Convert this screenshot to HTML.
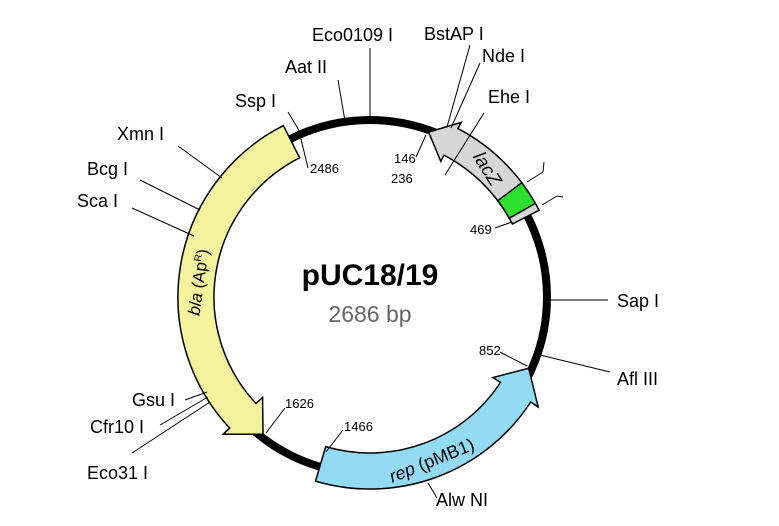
<!DOCTYPE html>
<html><head><meta charset="utf-8"><style>
html,body{margin:0;padding:0;background:#fff;}
svg{display:block;}
text{font-family:"Liberation Sans",sans-serif;fill:#000;}
.l{font-size:18px;}
.n{font-size:13px;}
</style></head><body>
<svg id="s" width="779" height="526" viewBox="0 0 779 526" xmlns="http://www.w3.org/2000/svg">
<g id="g"></g>
<g stroke="#000" stroke-width="1" fill="none">
<line x1="370" y1="48" x2="370" y2="116"/>
<line x1="338" y1="80" x2="345" y2="121"/>
<line x1="288" y1="112" x2="300" y2="132"/>
<line x1="178" y1="146" x2="222" y2="178"/>
<line x1="140" y1="180" x2="200" y2="210"/>
<line x1="132" y1="208" x2="194" y2="236"/>
<line x1="470" y1="45" x2="447" y2="127"/>
<line x1="480" y1="63" x2="451" y2="128"/>
<line x1="484" y1="113" x2="445" y2="175"/>
<line x1="544" y1="162" x2="543" y2="172"/><line x1="543" y1="172" x2="527" y2="182"/>
<line x1="563" y1="197" x2="557" y2="196"/><line x1="557" y1="196" x2="542" y2="205"/>
<line x1="495" y1="228" x2="512" y2="222"/>
<line x1="548" y1="300" x2="608" y2="300"/>
<line x1="540" y1="355" x2="610" y2="372"/>
<line x1="500" y1="352" x2="527" y2="366"/>
<line x1="428" y1="483" x2="437" y2="498"/>
<line x1="343" y1="430" x2="326" y2="452"/>
<line x1="285" y1="408" x2="266" y2="433"/>
<line x1="185" y1="400" x2="207" y2="392"/>
<line x1="160" y1="425" x2="208" y2="397"/>
<line x1="132" y1="453" x2="210" y2="402"/>
<line x1="300" y1="135" x2="308" y2="168"/>
<line x1="416" y1="157" x2="426" y2="135"/>
</g>
<text class="l" x="312" y="41">Eco0109 I</text>
<text class="l" x="285" y="73">Aat II</text>
<text class="l" x="235" y="107">Ssp I</text>
<text class="l" x="117" y="140">Xmn I</text>
<text class="l" x="87" y="175">Bcg I</text>
<text class="l" x="77" y="207">Sca I</text>
<text class="l" x="424" y="40">BstAP I</text>
<text class="l" x="482" y="62">Nde I</text>
<text class="l" x="488" y="103">Ehe I</text>
<text class="l" x="617" y="307">Sap I</text>
<text class="l" x="617" y="385">Afl III</text>
<text class="l" x="436" y="506">Alw NI</text>
<text class="l" x="132" y="406">Gsu I</text>
<text class="l" x="90" y="433">Cfr10 I</text>
<text class="l" x="87" y="479">Eco31 I</text>
<text class="n" x="310" y="173">2486</text>
<text class="n" x="394" y="163">146</text>
<text class="n" x="391" y="183">236</text>
<text class="n" x="470" y="234">469</text>
<text class="n" x="479" y="355">852</text>
<text class="n" x="344" y="431">1466</text>
<text class="n" x="285" y="408">1626</text>
<text x="370" y="285" text-anchor="middle" style="font-size:30px;font-weight:bold">pUC18/19</text>
<text x="370" y="322" text-anchor="middle" style="font-size:23px;fill:#666">2686 bp</text>
<text transform="translate(204,283) rotate(-82)" text-anchor="middle" style="font-size:17px">
<tspan font-style="italic">bla</tspan> (Ap<tspan font-size="10" dy="-6">R</tspan><tspan dy="6">)</tspan></text>
<text transform="translate(482,172) rotate(58)" text-anchor="middle" style="font-size:19px;font-style:italic">lacZ</text>
<text transform="translate(434,466) rotate(-22)" text-anchor="middle" style="font-size:18px"><tspan font-style="italic">rep</tspan> (pMB1)</text>
</svg>
<script>
var cx=370,cy=297,N=2686;
function P(a,r){var t=a*Math.PI/180;return (cx+r*Math.sin(t)).toFixed(1)+","+(cy-r*Math.cos(t)).toFixed(1);}
function A(bp){return bp/N*360;}
var g=document.getElementById('g'),h='';
h+='<circle cx="'+cx+'" cy="'+cy+'" r="177" fill="none" stroke="#000" stroke-width="8"/>';
function band(tail,head,fill,hl){
  var ro=192,ri=156,rm=174,base=head+hl;
  var d='M'+P(tail,ro)+' A'+ro+','+ro+' 0 0,0 '+P(base,ro)+' L'+P(base,ro+9)+' L'+P(head,rm)+' L'+P(base,ri-9)+' L'+P(base,ri)+' A'+ri+','+ri+' 0 0,1 '+P(tail,ri)+' Z';
  h+='<path d="'+d+'" fill="'+fill+'" stroke="#000" stroke-width="1.5"/>';
}
band(A(2486),A(1626),'#f5f29e',9);
band(A(1466),A(852),'#93daf4',9);
(function(){var ro=190,ri=160,rm=175,head=A(146),base=head+8,tail=A(469);
 var d='M'+P(tail,ro)+' A'+ro+','+ro+' 0 0,0 '+P(base,ro)+' L'+P(base,ro+7)+' L'+P(head,rm)+' L'+P(base,ri-7)+' L'+P(base,ri)+' A'+ri+','+ri+' 0 0,1 '+P(tail,ri)+' Z';
 h+='<path d="'+d+'" fill="#d6d6d6" stroke="#000" stroke-width="1.5"/>';
 var g1=53,g2=60.5;
 h+='<path d="M'+P(g1,ro)+' A'+ro+','+ro+' 0 0,1 '+P(g2,ro)+' L'+P(g2,ri)+' A'+ri+','+ri+' 0 0,0 '+P(g1,ri)+' Z" fill="#2ee02e" stroke="#000" stroke-width="1.5"/>';
})();
g.innerHTML=h;
</script>
</body></html>
